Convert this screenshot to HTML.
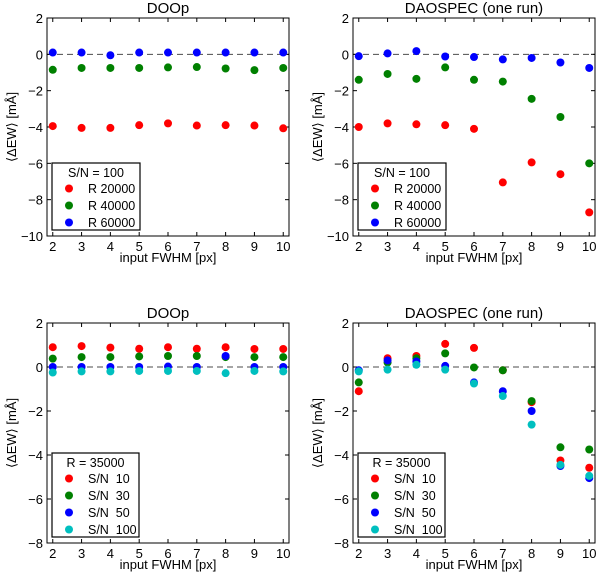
<!DOCTYPE html>
<html><head><meta charset="utf-8">
<style>
body{margin:0;background:#fff;}
svg{display:block;font-family:"Liberation Sans","DejaVu Sans",sans-serif;}
</style></head>
<body>
<svg id="fig" width="600" height="572" viewBox="0 0 600 572" xmlns="http://www.w3.org/2000/svg"></svg>
<script>
const xCategories = [2,3,4,5,6,7,8,9,10];
const topTicks = [2,0,-2,-4,-6,-8,-10];
const botTicks = [2,0,-2,-4,-6,-8];
const tlR20000 = [-3.95,-4.05,-4.05,-3.9,-3.8,-3.92,-3.9,-3.92,-4.07];
const tlR40000 = [-0.85,-0.75,-0.75,-0.75,-0.72,-0.7,-0.78,-0.87,-0.75];
const tlR60000 = [0.1,0.1,-0.05,0.1,0.1,0.1,0.1,0.1,0.1];
const trR20000 = [-4.0,-3.8,-3.85,-3.9,-4.1,-7.05,-5.95,-6.6,-8.7];
const trR40000 = [-1.4,-1.08,-1.35,-0.72,-1.4,-1.5,-2.45,-3.45,-6.0];
const trR60000 = [-0.1,0.05,0.18,-0.12,-0.15,-0.28,-0.2,-0.45,-0.75];
const blSN10 = [0.9,0.95,0.88,0.83,0.9,0.83,0.9,0.82,0.82];
const blSN30 = [0.38,0.45,0.45,0.48,0.5,0.5,0.45,0.45,0.45];
const blSN50 = [0,0,0,0,0.02,0,0.5,0,0];
const blSN100 = [-0.25,-0.2,-0.2,-0.18,-0.18,-0.18,-0.28,-0.18,-0.2];
const brSN10 = [-1.1,0.4,0.5,1.05,0.87,-0.15,-1.6,-4.25,-4.58];
const brSN30 = [-0.7,0.2,0.4,0.62,-0.02,-0.15,-1.55,-3.65,-3.75];
const brSN50 = [-0.15,0.3,0.25,0.05,-0.7,-1.1,-2.0,-4.5,-5.05];
const brSN100 = [-0.2,-0.12,0.1,-0.12,-0.75,-1.32,-2.62,-4.45,-4.95];
const topLabels = ["R 20000","R 40000","R 60000"];
const botLabels = ["S/N  10","S/N  30","S/N  50","S/N  100"];
const colors = ["#ff0000","#008000","#0000ff","#00bfbf"];

const svg = document.getElementById('fig');
const NS = "http://www.w3.org/2000/svg";
function mk(tag, attrs, parent){
  const e = document.createElementNS(NS, tag);
  for (const k in attrs) e.setAttribute(k, attrs[k]);
  (parent||svg).appendChild(e);
  return e;
}
function panel(o){
  const g = mk('g', {});
  
  
  const L=o.left, R=o.left+242, T=o.top, B=o.bottom;
  const xs = v => L + (v-1.8)/(10.2-1.8)*(R-L);
  const ys = v => T + (o.ymax-v)/(o.ymax-o.ymin)*(B-T);
  const z = mk('line',{x1:L,x2:R,y1:ys(0),y2:ys(0),stroke:'#000','stroke-width':1,'stroke-dasharray':'6,4',opacity:0.7},g);
  
  
  o.ticks.forEach(t=>{
    const y=ys(t);
    mk('line',{x1:L,x2:L+4,y1:y,y2:y,stroke:'#000'},g);
    mk('line',{x1:R,x2:R-4,y1:y,y2:y,stroke:'#000'},g);
    const tx = mk('text',{x:L-4,y:y+5,'text-anchor':'end','font-size':13},g);
    tx.textContent = (t<0?'\u2212'+(-t):String(t));
    
    
  });
  xCategories.forEach(c=>{
    const x=xs(c);
    mk('line',{x1:x,x2:x,y1:B,y2:B-4,stroke:'#000'},g);
    mk('line',{x1:x,x2:x,y1:T,y2:T+4,stroke:'#000'},g);
    const tx = mk('text',{x:x,y:B+15,'text-anchor':'middle','font-size':13},g);
    tx.textContent = String(c);
    
    
  });
  o.series.forEach((s,i)=>{
    s.forEach((v,j)=>{
      const c = mk('circle',{cx:xs(xCategories[j]),cy:ys(v),r:4,fill:colors[i]},g);
      
      
    });
  });
  const fr = mk('rect',{x:L,y:T,width:R-L,height:B-T,fill:'none',stroke:'#000','stroke-width':1},g);
  
  
  const ti = mk('text',{x:(L+R)/2,y:T-5,'text-anchor':'middle','font-size':15},g);
  ti.textContent = o.title;
  
  
  const xl = mk('text',{x:(L+R)/2,y:B+26,'text-anchor':'middle','font-size':13},g);
  xl.textContent = 'input FWHM [px]';
  
  
  const cy=(T+B)/2;
  const yl = mk('text',{x:L-31,y:cy,'text-anchor':'middle','font-size':13,transform:`rotate(-90 ${L-31} ${cy})`},g);
  yl.textContent = '\u27E8\u0394EW\u27E9 [m\u00C5]';
  
  
  const lg = mk('g',{},g);
  
  
  const n=o.labels.length, lh=n*17+16;
  const lx=L+5, ly=B-6-lh;
  mk('rect',{x:lx,y:ly,width:o.legW,height:lh,fill:'#fff',stroke:'#000','stroke-width':1.2},lg);
  const ht = mk('text',{x:lx+o.legW/2,y:ly+14,'text-anchor':'middle','font-size':12.5},lg);
  ht.textContent = o.legTitle;
  
  
  o.labels.forEach((lab,i)=>{
    const yy = ly+30+i*17;
    mk('circle',{cx:lx+17,cy:yy-4.5,r:4,fill:colors[i]},lg);
    const t = mk('text',{x:lx+36,y:yy,'font-size':12.5},lg);
    t.textContent = lab;
    t.style.whiteSpace='pre';
    
    
  });
}
panel({name:'panel-doop-resolution',left:47,top:18,bottom:236,ymin:-10,ymax:2,ticks:topTicks,title:'DOOp',series:[tlR20000,tlR40000,tlR60000],labels:topLabels,legTitle:'S/N = 100',legW:88});
panel({name:'panel-daospec-resolution',left:353,top:18,bottom:236,ymin:-10,ymax:2,ticks:topTicks,title:'DAOSPEC (one run)',series:[trR20000,trR40000,trR60000],labels:topLabels,legTitle:'S/N = 100',legW:88});
panel({name:'panel-doop-snr',left:47,top:323,bottom:543,ymin:-8,ymax:2,ticks:botTicks,title:'DOOp',series:[blSN10,blSN30,blSN50,blSN100],labels:botLabels,legTitle:'R = 35000',legW:87});
panel({name:'panel-daospec-snr',left:353,top:323,bottom:543,ymin:-8,ymax:2,ticks:botTicks,title:'DAOSPEC (one run)',series:[brSN10,brSN30,brSN50,brSN100],labels:botLabels,legTitle:'R = 35000',legW:87});
</script>
</body></html>
